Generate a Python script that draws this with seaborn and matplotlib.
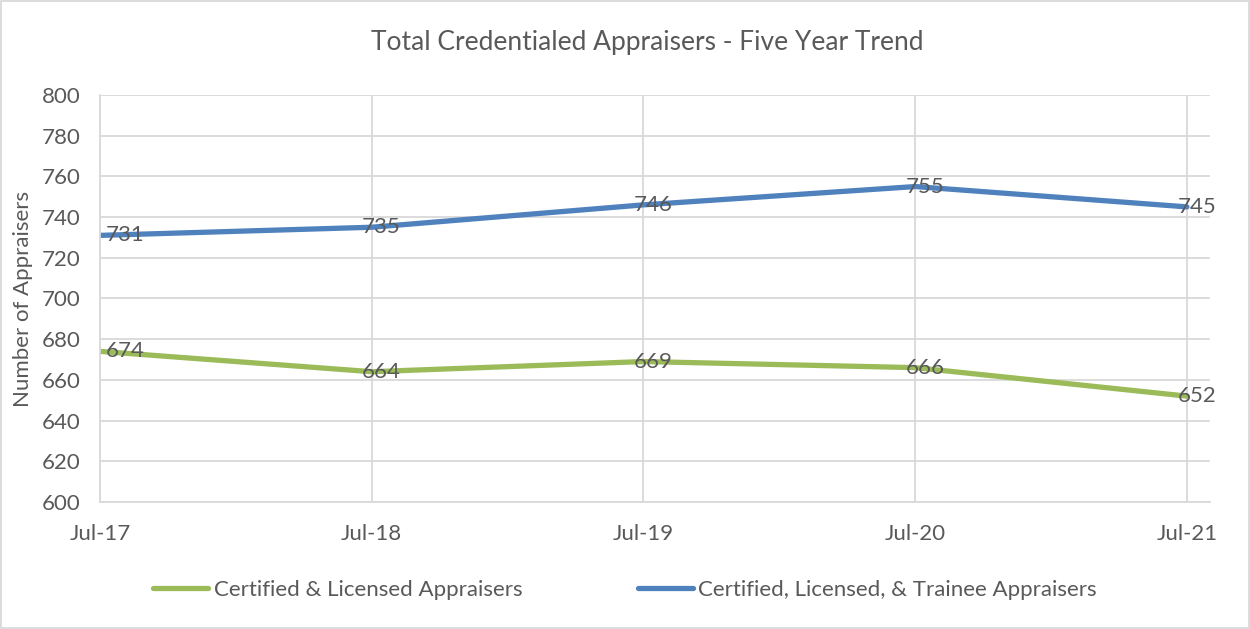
import matplotlib
matplotlib.use("Agg")
import matplotlib.pyplot as plt
import seaborn as sns
import pandas as pd

dates = ["Jul-17", "Jul-18", "Jul-19", "Jul-20", "Jul-21"]
certified_licensed = [674, 664, 669, 666, 652]
cert_lic_trainee = [731, 735, 746, 755, 745]
series_names = ["Certified & Licensed Appraisers", "Certified, Licensed, & Trainee Appraisers"]
yticks = list(range(600, 801, 20))

sns.set_theme(style="white")
plt.rcParams['font.family'] = ['Lato', 'DejaVu Sans']
TXT = "#595959"
GRID = "#D9D9D9"
colors = {series_names[0]: "#9BBB59", series_names[1]: "#4F81BD"}

rows = []
for i, d in enumerate(dates):
    rows.append({"x": i, "date": d, "value": certified_licensed[i], "series": series_names[0]})
    rows.append({"x": i, "date": d, "value": cert_lic_trainee[i], "series": series_names[1]})
df = pd.DataFrame(rows)

fig = plt.figure(figsize=(12.5, 6.29), dpi=100)
ax = fig.add_axes([0.08, 0.202, 0.888, 0.647])
sns.lineplot(data=df, x="x", y="value", hue="series", palette=colors,
             hue_order=series_names, linewidth=3.8, ax=ax, legend=True)

FS = 16
ax.set_xlim(0, 4.085)
ax.set_ylim(600, 800)
ax.set_yticks(yticks)
ax.set_xticks(range(len(dates)))
ax.set_xticklabels(dates)
ax.grid(True, color=GRID, linewidth=1.3)
ax.set_axisbelow(True)
for s in ["top", "right"]:
    ax.spines[s].set_visible(False)
ax.spines["left"].set_color(GRID)
ax.spines["bottom"].set_color(GRID)
ax.spines["left"].set_linewidth(1.3)
ax.spines["bottom"].set_linewidth(1.3)
ax.tick_params(axis="both", colors=TXT, labelsize=FS, length=0)
ax.tick_params(axis="x", pad=16)
ax.tick_params(axis="y", pad=14)
ax.set_xlabel("")
ax.set_ylabel("Number of Appraisers", color=TXT, fontsize=FS, labelpad=6)

for vals in (certified_licensed, cert_lic_trainee):
    for i, v in enumerate(vals):
        dx = 18 if i == 0 else 7
        ax.annotate(str(v), (i, v), xytext=(dx, 0), textcoords="offset points",
                    ha="center", va="center", color=TXT, fontsize=FS)

fig.text(0.518, 0.933, "Total Credentialed Appraisers - Five Year Trend",
         ha="center", va="center", color=TXT, fontsize=19)

handles, labels = ax.get_legend_handles_labels()
ax.legend(handles, labels, loc="center", bbox_to_anchor=(0.5, 0.062),
          bbox_transform=fig.transFigure, ncol=2, frameon=False,
          fontsize=FS, labelcolor=TXT, handlelength=2.5, handletextpad=0.23,
          columnspacing=5.2)

fig.patches.append(plt.Rectangle((0.001, 0.001), 0.998, 0.997, transform=fig.transFigure,
                                 fill=False, edgecolor=GRID, linewidth=1.3))
fig.savefig("out.png", dpi=100)
